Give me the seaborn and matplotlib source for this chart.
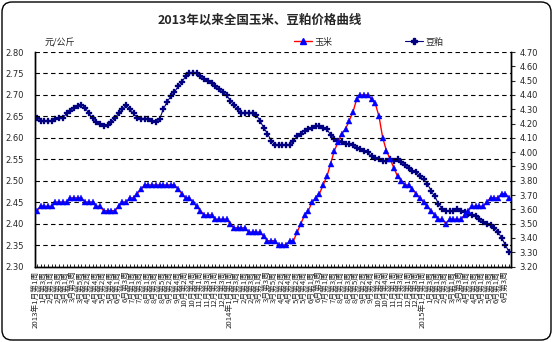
import numpy as np
import pandas as pd
import matplotlib
matplotlib.use("Agg")
import matplotlib.pyplot as plt
from matplotlib.patches import FancyBboxPatch
from matplotlib.lines import Line2D
import seaborn as sns

# ---------------- data ----------------
years = [2013, 2014, 2015]
weeks_per_month = {
    2013: [4, 4, 5, 4, 5, 4, 4, 5, 4, 5, 4, 4],
    2014: [4, 4, 5, 4, 5, 4, 4, 5, 4, 5, 4, 4],
    2015: [4, 4, 4, 4, 4, 4],
}

corn = [
    2.43, 2.44, 2.44, 2.44, 2.44, 2.45, 2.45, 2.45, 2.45, 2.46,
    2.46, 2.46, 2.46, 2.45, 2.45, 2.45, 2.44, 2.44, 2.43, 2.43,
    2.43, 2.43, 2.44, 2.45, 2.45, 2.46, 2.46, 2.47, 2.48, 2.49,
    2.49, 2.49, 2.49, 2.49, 2.49, 2.49, 2.49, 2.49, 2.48, 2.47,
    2.46, 2.46, 2.45, 2.44, 2.43, 2.42, 2.42, 2.42, 2.41, 2.41,
    2.41, 2.41, 2.40, 2.39, 2.39, 2.39, 2.39, 2.38, 2.38, 2.38,
    2.38, 2.37, 2.36, 2.36, 2.36, 2.35, 2.35, 2.35, 2.36, 2.36,
    2.38, 2.40, 2.42, 2.43, 2.45, 2.46, 2.47, 2.49, 2.51, 2.54,
    2.57, 2.59, 2.61, 2.62, 2.64, 2.66, 2.69, 2.70, 2.70, 2.70,
    2.69, 2.68, 2.65, 2.60, 2.57, 2.55, 2.53, 2.51, 2.50, 2.49,
    2.49, 2.48, 2.47, 2.46, 2.45, 2.44, 2.43, 2.42, 2.41, 2.41,
    2.40, 2.41, 2.41, 2.41, 2.41, 2.42, 2.43, 2.44, 2.44, 2.44,
    2.44, 2.45, 2.46, 2.46, 2.46, 2.47, 2.47, 2.46,
]

soymeal = [
    4.24, 4.22, 4.22, 4.22, 4.22, 4.23, 4.24, 4.24, 4.27, 4.29,
    4.31, 4.32, 4.33, 4.31, 4.27, 4.24, 4.21, 4.20, 4.18, 4.19,
    4.21, 4.24, 4.27, 4.30, 4.33, 4.30, 4.27, 4.24, 4.23, 4.23,
    4.23, 4.22, 4.21, 4.23, 4.30, 4.35, 4.39, 4.42, 4.46, 4.49,
    4.53, 4.55, 4.55, 4.55, 4.53, 4.51, 4.50, 4.48, 4.46, 4.44,
    4.42, 4.40, 4.36, 4.33, 4.30, 4.27, 4.27, 4.27, 4.27, 4.26,
    4.22, 4.17, 4.13, 4.08, 4.05, 4.05, 4.05, 4.05, 4.05, 4.08,
    4.11, 4.13, 4.15, 4.16, 4.17, 4.18, 4.18, 4.17, 4.16, 4.12,
    4.09, 4.08, 4.07, 4.06, 4.06, 4.05, 4.03, 4.02, 4.01, 4.00,
    3.97, 3.96, 3.95, 3.94, 3.94, 3.95, 3.94, 3.95, 3.93, 3.91,
    3.89, 3.87, 3.86, 3.83, 3.81, 3.78, 3.73, 3.69, 3.64, 3.60,
    3.59, 3.59, 3.59, 3.60, 3.59, 3.58, 3.57, 3.56, 3.55, 3.53,
    3.51, 3.50, 3.49, 3.47, 3.44, 3.40, 3.35, 3.30,
]

left_ticks = [2.30, 2.35, 2.40, 2.45, 2.50, 2.55, 2.60, 2.65, 2.70, 2.75, 2.80]
right_ticks = [3.20, 3.30, 3.40, 3.50, 3.60, 3.70, 3.80, 3.90, 4.00,
               4.10, 4.20, 4.30, 4.40, 4.50, 4.60, 4.70]

title = "2013年以来全国玉米、豆粕价格曲线"
unit = "元/公斤"
name_corn = "玉米"
name_soy = "豆粕"

# week labels
week_labels = []
for y in years:
    for m, n in enumerate(weeks_per_month[y], start=1):
        for w in range(1, n + 1):
            if m == 1 and w == 1:
                week_labels.append(f"{y}年{m}月第{w}周")
            else:
                week_labels.append(f"{m}月第{w}周")

n = len(corn)
df = pd.DataFrame({"idx": np.arange(n), "corn": corn, "soy": soymeal})

# ---------------- style ----------------
sns.set_style("white")
plt.rcParams["font.family"] = ["Noto Sans CJK SC", "DejaVu Sans"]
plt.rcParams["axes.unicode_minus"] = False

W, H = 553, 342
fig = plt.figure(figsize=(W / 100, H / 100), dpi=100)
ax = fig.add_axes([35 / W, 1 - 266.5 / H, (511 - 35) / W, (266.5 - 52) / H])
ax2 = ax.twinx()

# corn on left axis
sns.lineplot(data=df, x="idx", y="corn", ax=ax, color="red", linewidth=1.0,
             marker="^", markersize=5, markerfacecolor="#0000ff",
             markeredgecolor="#0000ff", markeredgewidth=0.3, legend=False, zorder=4)
# soybean meal on right axis
sns.lineplot(data=df, x="idx", y="soy", ax=ax2, color="#000080", linewidth=0.8,
             marker="P", markersize=4, markerfacecolor="#000080",
             markeredgecolor="#000080", markeredgewidth=0.2, legend=False, zorder=3)

ax.set_xlim(-0.5, n - 0.5)
ax.set_ylim(2.30, 2.80)
ax2.set_ylim(3.20, 4.70)

ax.set_yticks(left_ticks)
ax.set_yticklabels([f"{v:.2f}" for v in left_ticks], fontsize=6,
                   family="DejaVu Sans")
ax2.set_yticks(right_ticks)
ax2.set_yticklabels([f"{v:.2f}" for v in right_ticks], fontsize=6,
                    family="DejaVu Sans")

ax.set_xticks(np.arange(n))
ax.set_xticklabels([lab if i % 2 == 0 else "" for i, lab in enumerate(week_labels)],
                   rotation=90, fontsize=5.6)

ax.set_xlabel("")
ax.set_ylabel("")
ax2.set_ylabel("")

# grid lines
for v in left_ticks[1:]:
    ax.axhline(v, color="black", linewidth=0.8, linestyle=(0, (4, 3)), zorder=1)

for s in ["top"]:
    ax.spines[s].set_visible(False)
    ax2.spines[s].set_visible(False)
for a in (ax, ax2):
    a.spines["left"].set_visible(True)
    a.spines["left"].set_color("black")
    a.spines["left"].set_linewidth(1.0)
    a.spines["right"].set_color("black")
    a.spines["right"].set_linewidth(1.0)
    a.spines["bottom"].set_color("black")
    a.spines["bottom"].set_linewidth(1.0)

ax.tick_params(axis="y", left=False, length=0, pad=0)
ax.tick_params(axis="x", direction="in", length=2, width=0.6, pad=3,
               bottom=True, color="black")
ax2.tick_params(axis="y", right=True, direction="out", length=3, width=0.8, pad=3)
for lab in ax.get_yticklabels():
    lab.set_horizontalalignment("left")
    lab.set_x(-30 / (511 - 35))

ax.grid(False)
ax2.grid(False)
ax.set_zorder(ax2.get_zorder() + 1)
ax.patch.set_visible(False)

# title & unit
fig.text(260 / W, 1 - 20 / H, title, ha="center", va="center",
         fontsize=9, fontweight="bold")
fig.text(45 / W, 1 - 43 / H, unit, ha="left", va="center", fontsize=6.5,
         style="italic")

# legend
handles = [
    Line2D([], [], color="red", linewidth=1.0, marker="^", markersize=5,
           markerfacecolor="#0000ff", markeredgecolor="#0000ff"),
    Line2D([], [], color="#000080", linewidth=0.8, marker="P", markersize=4,
           markerfacecolor="#000080", markeredgecolor="#000080"),
]
fig.legend(handles, [name_corn, name_soy], loc="center left",
           bbox_to_anchor=(294 / W, 1 - 42 / H), ncol=2, frameon=False,
           fontsize=6.5, handlelength=2.0, handletextpad=0.3,
           columnspacing=8.0, borderpad=0, borderaxespad=0)

# rounded figure border
r = 10
border = FancyBboxPatch((2 / W, 2 / H), (W - 4) / W, (H - 4) / H,
                        boxstyle=f"round,pad=0,rounding_size={r / W}",
                        mutation_aspect=W / H, transform=fig.transFigure,
                        facecolor="none", edgecolor="black", linewidth=1.0)
fig.patches.append(border)

fig.savefig("out.png", dpi=100)
